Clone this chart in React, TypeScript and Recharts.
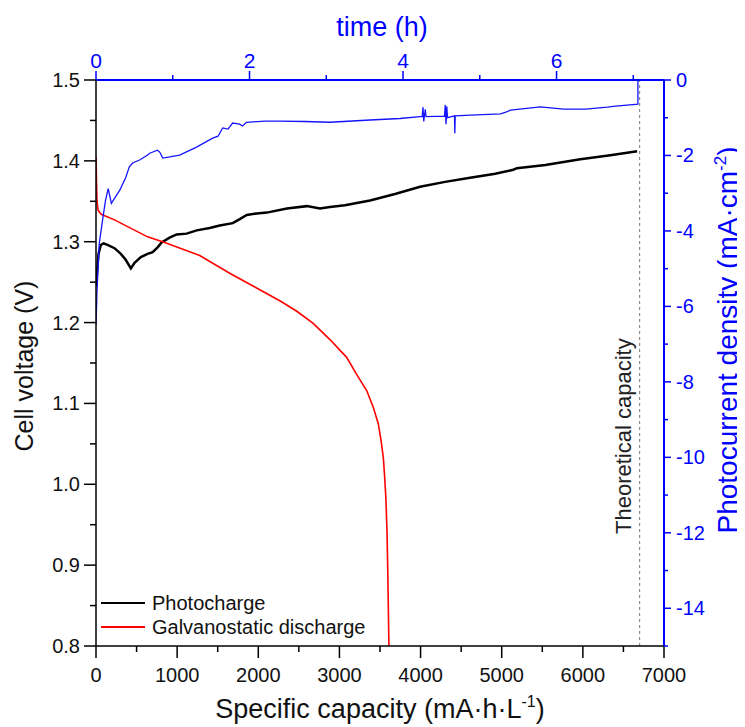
import { LineChart, Line, XAxis, YAxis, ReferenceLine, Legend } from "recharts";

const FONT = '"Liberation Sans", Arial, Helvetica, sans-serif';
const BLUE = "#0000ff";
const TEXT = "#111";

// photocharge: cell voltage vs specific capacity (mA·h·L-1)
const photoCapacity = [0, 31, 59, 93, 142, 228, 306, 364, 430, 475, 553, 636, 698, 759, 809, 907, 994, 1117, 1241, 1401, 1525, 1685, 1772, 1858, 1982, 2105, 2352, 2599, 2759, 2883, 3068, 3377, 3685, 3994, 4302, 4611, 4920, 5142, 5188, 5537, 5969, 6339, 6669];
const photoVoltage = [1.245, 1.285, 1.296, 1.298, 1.296, 1.292, 1.285, 1.278, 1.267, 1.274, 1.281, 1.285, 1.287, 1.293, 1.299, 1.305, 1.309, 1.31, 1.314, 1.317, 1.32, 1.323, 1.328, 1.333, 1.335, 1.336, 1.341, 1.344, 1.341, 1.343, 1.345, 1.351, 1.359, 1.368, 1.374, 1.379, 1.384, 1.389, 1.391, 1.395, 1.402, 1.407, 1.412];

// galvanostatic discharge
const dischargeCapacity = [0, 6, 12, 25, 64, 228, 636, 821, 1278, 1648, 1957, 2265, 2475, 2677, 2883, 3089, 3212, 3336, 3418, 3479, 3513, 3541, 3558, 3574, 3587, 3595, 3610];
const dischargeVoltage = [1.405, 1.376, 1.351, 1.339, 1.334, 1.327, 1.306, 1.3, 1.283, 1.261, 1.244, 1.227, 1.214, 1.199, 1.179, 1.157, 1.136, 1.116, 1.095, 1.075, 1.054, 1.033, 1.008, 0.98, 0.939, 0.897, 0.8];

// photocurrent density vs time (h)
const currentTime = [0, 0.013, 0.042, 0.085, 0.124, 0.159, 0.2, 0.31, 0.385, 0.434, 0.477, 0.568, 0.673, 0.7, 0.8, 0.83, 0.87, 0.96, 1.09, 1.31, 1.52, 1.59, 1.65, 1.72, 1.78, 1.87, 1.91, 1.96, 2.2, 2.4, 2.72, 3.05, 3.57, 3.96, 4.22, 4.25, 4.26, 4.27, 4.29, 4.3, 4.54, 4.55, 4.56, 4.57, 4.58, 4.67, 4.675, 4.68, 4.88, 5.27, 5.34, 5.4, 5.79, 6.09, 6.38, 6.66, 6.77, 7.06, 7.06];
const currentDensity = [-6.5, -5.6, -4.34, -3.72, -3.19, -2.88, -3.27, -2.92, -2.6, -2.3, -2.2, -2.12, -1.99, -1.94, -1.86, -1.91, -2.07, -2.04, -1.99, -1.78, -1.54, -1.49, -1.27, -1.3, -1.14, -1.17, -1.22, -1.12, -1.09, -1.09, -1.1, -1.12, -1.06, -1.02, -0.97, -0.97, -0.72, -1.1, -0.78, -0.97, -0.96, -0.66, -1.17, -0.7, -1.0, -0.95, -1.41, -0.95, -0.93, -0.9, -0.85, -0.8, -0.71, -0.77, -0.77, -0.72, -0.69, -0.64, 0];

const theoreticalCapacity = 6700;
const legendOrder = ["Photocharge", "Galvanostatic discharge"];

const capacityTicks = [0, 500, 1000, 1500, 2000, 2500, 3000, 3500, 4000, 4500, 5000, 5500, 6000, 6500, 7000];
const voltageTicks = [0.8, 0.85, 0.9, 0.95, 1.0, 1.05, 1.1, 1.15, 1.2, 1.25, 1.3, 1.35, 1.4, 1.45, 1.5];
const timeTicks = [0, 1, 2, 3, 4, 5, 6, 7];
const currentTicks = [-15, -14, -13, -12, -11, -10, -9, -8, -7, -6, -5, -4, -3, -2, -1, 0];

const photoData = photoCapacity.map((c, i) => ({ cap: c, v: photoVoltage[i] }));
const dischargeData = dischargeCapacity.map((c, i) => ({ cap: c, v: dischargeVoltage[i] }));
const currentData = currentTime.map((t, i) => ({ t, j: currentDensity[i] }));

function CapacityTick(props: any) {
  const { x, y, payload } = props;
  const major = payload.value % 1000 === 0;
  return (
    <g>
      <line x1={x} y1={y} x2={x} y2={y + (major ? 12 : 6)} stroke="#000" strokeWidth={1.5} />
      {major && (
        <text x={x} y={y + 36} textAnchor="middle" fontSize={20} fontFamily={FONT} fill={TEXT}>
          {payload.value}
        </text>
      )}
    </g>
  );
}

function VoltageTick(props: any) {
  const { x, y, payload } = props;
  const major = Math.round(payload.value * 100) % 10 === 0;
  return (
    <g>
      <line x1={x} y1={y} x2={x - (major ? 12 : 6)} y2={y} stroke="#000" strokeWidth={1.5} />
      {major && (
        <text x={x - 16} y={y + 7} textAnchor="end" fontSize={20} fontFamily={FONT} fill={TEXT}>
          {payload.value.toFixed(1)}
        </text>
      )}
    </g>
  );
}

function TimeTick(props: any) {
  const { x, y, payload } = props;
  const major = payload.value % 2 === 0;
  return (
    <g>
      <line x1={x} y1={y} x2={x} y2={y - (major ? 9 : 5)} stroke={BLUE} strokeWidth={1.5} />
      {major && (
        <text x={x} y={y - 12} textAnchor="middle" fontSize={21} fontFamily={FONT} fill={BLUE}>
          {payload.value}
        </text>
      )}
    </g>
  );
}

function CurrentTick(props: any) {
  const { x, y, payload } = props;
  const major = payload.value % 2 === 0;
  return (
    <g>
      <line x1={x} y1={y} x2={x + (major ? 7 : 4)} y2={y} stroke={BLUE} strokeWidth={1.5} />
      {major && (
        <text x={x + 12} y={y + 7} textAnchor="start" fontSize={20} fontFamily={FONT} fill={BLUE}>
          {String(payload.value)}
        </text>
      )}
    </g>
  );
}

const bottomTitle = (props: any) => {
  const { x, y, width } = props.viewBox;
  return (
    <text x={x + width / 2} y={y + 72} textAnchor="middle" fontSize={27} fontFamily={FONT} fill={TEXT}>
      Specific capacity (mA·h·L<tspan dy={-11} fontSize={16}>-1</tspan>
      <tspan dy={11}>)</tspan>
    </text>
  );
};

const topTitle = (props: any) => {
  const { x, y, width } = props.viewBox;
  return (
    <text x={x + width / 2 + 2} y={y + 28} textAnchor="middle" fontSize={27} fontFamily={FONT} fill={BLUE}>
      time (h)
    </text>
  );
};

const leftTitle = (props: any) => {
  const { y, height } = props.viewBox;
  const cx = 25;
  const cy = y + height / 2 + 3;
  return (
    <text x={cx} y={cy} transform={`rotate(-90, ${cx}, ${cy})`} textAnchor="middle" fontSize={25} fontFamily={FONT} fill={TEXT}>
      Cell voltage (V)
    </text>
  );
};

const rightTitle = (props: any) => {
  const { x, y, height } = props.viewBox;
  const cx = x + 72.5;
  const cy = y + height / 2 - 23;
  return (
    <text x={cx} y={cy} transform={`rotate(-90, ${cx}, ${cy})`} textAnchor="middle" fontSize={28} fontFamily={FONT} fill={BLUE}>
      Photocurrent density (mA·cm<tspan dy={-11} fontSize={17}>-2</tspan>
      <tspan dy={11}>)</tspan>
    </text>
  );
};

const capacityLabel = (props: any) => {
  const { x, y, height } = props.viewBox;
  const tx = x - 9;
  const ty = y + height - 112;
  return (
    <text x={tx} y={ty} transform={`rotate(-90, ${tx}, ${ty})`} textAnchor="start" fontSize={22} fontFamily={FONT} fill="#222">
      Theoretical capacity
    </text>
  );
};

const renderLegend = (props: any) => {
  const payload = props.payload || [];
  const items = legendOrder
    .map((name) => payload.find((p: any) => p.value === name))
    .filter(Boolean);
  return (
    <div style={{ fontFamily: FONT, fontSize: 20, color: TEXT }}>
      {items.map((p: any) => (
        <div key={p.value} style={{ display: "flex", alignItems: "center", height: 24 }}>
          <span style={{ display: "inline-block", width: 44, height: 2, background: p.color, marginRight: 7 }} />
          <span style={{ lineHeight: "24px" }}>{p.value}</span>
        </div>
      ))}
    </div>
  );
};

export default function App() {
  return (
    <div style={{ width: 737, height: 719 }}>
      <LineChart width={737} height={719} margin={{ top: 0, right: 0, bottom: 0, left: 0 }}>
        <XAxis
          xAxisId="cap"
          dataKey="cap"
          type="number"
          domain={[0, 7000]}
          ticks={capacityTicks}
          interval={0}
          allowDataOverflow
          height={81}
          tickSize={0}
          tickMargin={0}
          tick={<CapacityTick />}
          axisLine={{ stroke: "#000", strokeWidth: 1.5 }}
          label={bottomTitle}
        />
        <XAxis
          xAxisId="time"
          dataKey="t"
          type="number"
          orientation="top"
          domain={[0, 7.4]}
          ticks={timeTicks}
          interval={0}
          allowDataOverflow
          height={72}
          tickSize={0}
          tickMargin={0}
          tick={<TimeTick />}
          axisLine={{ stroke: BLUE, strokeWidth: 2 }}
          label={topTitle}
        />
        <YAxis
          yAxisId="v"
          type="number"
          domain={[0.8, 1.5]}
          ticks={voltageTicks}
          interval={0}
          allowDataOverflow
          width={88}
          tickSize={0}
          tickMargin={0}
          tick={<VoltageTick />}
          axisLine={{ stroke: "#000", strokeWidth: 1.5 }}
          label={leftTitle}
        />
        <YAxis
          yAxisId="j"
          type="number"
          orientation="right"
          domain={[-15, 0]}
          ticks={currentTicks}
          interval={0}
          allowDataOverflow
          width={81}
          tickSize={0}
          tickMargin={0}
          tick={<CurrentTick />}
          axisLine={{ stroke: BLUE, strokeWidth: 2 }}
          label={rightTitle}
        />
        <ReferenceLine
          xAxisId="cap"
          yAxisId="v"
          x={theoreticalCapacity}
          stroke="#777"
          strokeWidth={1}
          strokeDasharray="3 3"
          label={capacityLabel}
        />
        <Line
          name="Photocharge"
          data={photoData}
          xAxisId="cap"
          yAxisId="v"
          dataKey="v"
          type="linear"
          stroke="#000"
          strokeWidth={2.5}
          dot={false}
          isAnimationActive={false}
        />
        <Line
          name="Galvanostatic discharge"
          data={dischargeData}
          xAxisId="cap"
          yAxisId="v"
          dataKey="v"
          type="linear"
          stroke="#ff0000"
          strokeWidth={1.6}
          dot={false}
          isAnimationActive={false}
        />
        <Line
          name="Photocurrent"
          legendType="none"
          data={currentData}
          xAxisId="time"
          yAxisId="j"
          dataKey="j"
          type="linear"
          stroke="#1414ff"
          strokeWidth={1.3}
          dot={false}
          isAnimationActive={false}
        />
        <Legend
          layout="vertical"
          align="center"
          verticalAlign="middle"
          content={renderLegend}
          wrapperStyle={{ left: 93, top: 583, width: 280 }}
        />
      </LineChart>
    </div>
  );
}
